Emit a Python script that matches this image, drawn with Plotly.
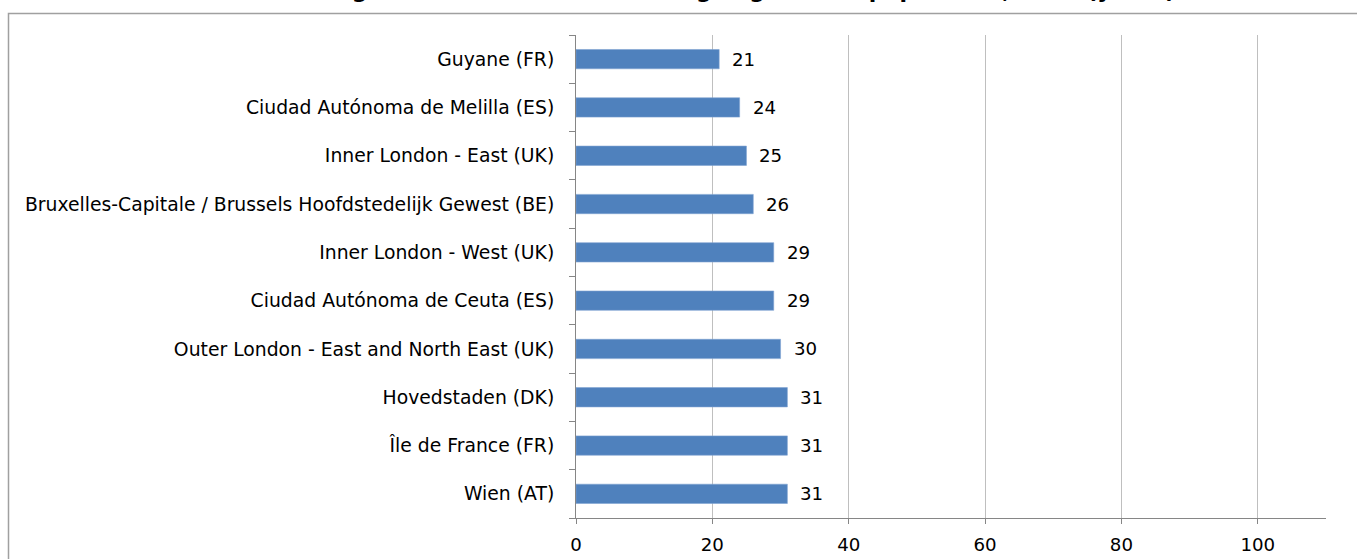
import plotly.graph_objects as go

# Data (bottom to top, as in the reference)
regions = [
    "Wien (AT)",
    "Île de France (FR)",
    "Hovedstaden (DK)",
    "Outer London - East and North East (UK)",
    "Ciudad Autónoma de Ceuta (ES)",
    "Inner London - West (UK)",
    "Bruxelles-Capitale / Brussels Hoofdstedelijk Gewest (BE)",
    "Inner London - East (UK)",
    "Ciudad Autónoma de Melilla (ES)",
    "Guyane (FR)",
]
values = [31, 31, 31, 30, 29, 29, 26, 25, 24, 21]
x_ticks = [0, 20, 40, 60, 80, 100]
title_text = "Ten NUTS 2 regions with the lowest average age of the population, 2010 (years)"

W, H = 1357, 559
L, R, T, B = 576, 31, 35, 41
pw, ph = W - L - R, H - T - B

def px_x(p):
    return (p - L) / pw

def px_y(p):
    return (H - B - p) / ph

FONT = "DejaVu Sans"
BAR = "#4F81BD"
AXIS = "#868686"
GRID = "#BFBFBF"

fig = go.Figure()
fig.add_trace(go.Bar(
    x=values, y=regions, orientation="h",
    marker=dict(color=BAR, line=dict(color="#7FA3D1", width=0.6)),
    hoverinfo="x+y",
))

for r, v in zip(regions, values):
    fig.add_annotation(x=v, y=r, xref="x", yref="y", text=str(v),
                       showarrow=False, xanchor="left", xshift=11,
                       font=dict(family=FONT, size=18.2, color="black"))

fig.update_layout(
    width=W, height=H,
    margin=dict(l=L, r=R, t=T, b=B, pad=0, autoexpand=False),
    paper_bgcolor="white", plot_bgcolor="white",
    bargap=0.6, showlegend=False,
    font=dict(family=FONT, size=18, color="black"),
)
fig.update_xaxes(
    range=[0, 110], tickvals=x_ticks, ticktext=[str(t) for t in x_ticks],
    showgrid=True, gridcolor=GRID, gridwidth=1,
    showline=True, linecolor=AXIS, linewidth=1,
    ticks="outside", ticklen=5, tickcolor=AXIS,
    zeroline=False, ticklabelstandoff=5, automargin=False,
    tickfont=dict(family=FONT, size=18.2, color="black"),
)
fig.update_yaxes(
    type="category", categoryorder="array", categoryarray=regions,
    showgrid=False, showline=True, linecolor=AXIS, linewidth=1,
    ticks="outside", ticklen=6, tickcolor=AXIS, tickson="boundaries",
    ticklabelstandoff=17, automargin=False,
    tickfont=dict(family=FONT, size=18.8, color="black"),
)

# outer chart-area frame (extends beyond the visible page on right and bottom)
fig.add_shape(type="rect", xref="paper", yref="paper",
              x0=px_x(8.5), x1=px_x(1370), y0=px_y(13.5), y1=px_y(575),
              line=dict(color="#A0A0A0", width=1.5), fillcolor="rgba(0,0,0,0)", layer="below")

# title, mostly cut off above the top of the page
fig.add_annotation(xref="paper", yref="paper", x=px_x(676), y=px_y(0),
                   text="<b>" + title_text + "</b>", showarrow=False,
                   xanchor="center", yanchor="bottom", yshift=-5.5,
                   font=dict(family=FONT, size=22, color="black"))

fig.write_html("out.html", config={"displayModeBar": False},
               post_script="document.body.style.margin='0';document.body.style.overflow='hidden';")
